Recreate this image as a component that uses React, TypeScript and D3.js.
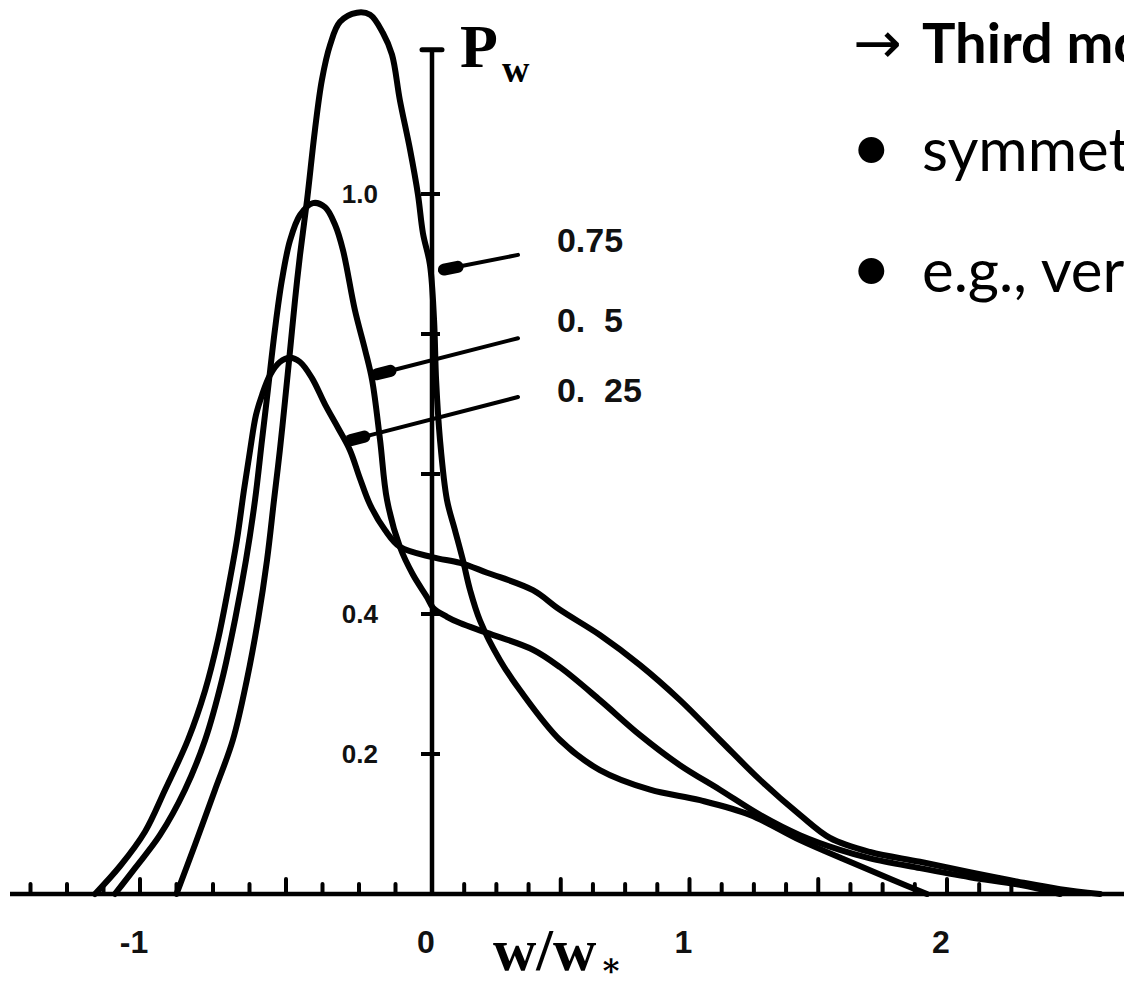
import React from "react";
import * as d3 from "d3";

const W = 1124;
const H = 983;

// P_w curves, points as [w/w*, P_w]
const curve075: [number, number][] = [
  [-0.875, 0], [-0.812, 0.07], [-0.743, 0.149], [-0.682, 0.22], [-0.634, 0.306],
  [-0.596, 0.391], [-0.565, 0.477], [-0.541, 0.563], [-0.521, 0.634], [-0.503, 0.706],
  [-0.486, 0.777], [-0.469, 0.849], [-0.452, 0.913], [-0.428, 0.991], [-0.401, 1.091],
  [-0.377, 1.163], [-0.349, 1.213], [-0.315, 1.246], [-0.257, 1.259], [-0.212, 1.256],
  [-0.168, 1.23], [-0.137, 1.199], [-0.11, 1.134], [-0.075, 1.063], [-0.048, 0.999],
  [-0.031, 0.944], [-0.007, 0.899], [0.008, 0.82], [0.016, 0.734], [0.031, 0.649],
  [0.058, 0.563], [0.089, 0.52], [0.12, 0.477], [0.148, 0.434], [0.186, 0.391],
  [0.264, 0.334], [0.342, 0.291], [0.497, 0.22], [0.652, 0.177], [0.847, 0.149],
  [1.041, 0.134], [1.235, 0.113], [1.429, 0.077], [1.623, 0.046], [1.79, 0.02], [1.922, 0],
];

const curve05: [number, number][] = [
  [-1.086, 0], [-1.017, 0.037], [-0.932, 0.084], [-0.846, 0.149], [-0.777, 0.22],
  [-0.719, 0.306], [-0.675, 0.391], [-0.637, 0.477], [-0.606, 0.563], [-0.582, 0.649],
  [-0.562, 0.72], [-0.538, 0.806], [-0.514, 0.877], [-0.486, 0.934], [-0.452, 0.97],
  [-0.408, 0.987], [-0.366, 0.981], [-0.332, 0.956], [-0.305, 0.92], [-0.264, 0.834],
  [-0.229, 0.777], [-0.205, 0.734], [-0.178, 0.649], [-0.154, 0.563], [-0.11, 0.496],
  [-0.065, 0.456], [-0.017, 0.424], [0.004, 0.409], [0.058, 0.396], [0.109, 0.387],
  [0.214, 0.373], [0.392, 0.349], [0.497, 0.324], [0.652, 0.277], [0.808, 0.227],
  [0.963, 0.184], [1.118, 0.149], [1.274, 0.113], [1.429, 0.084], [1.584, 0.063],
  [1.701, 0.051], [1.895, 0.037], [2.089, 0.024], [2.283, 0.013], [2.439, 0],
];

const curve025: [number, number][] = [
  [-1.154, 0], [-1.068, 0.04], [-0.983, 0.089], [-0.914, 0.149], [-0.836, 0.22],
  [-0.777, 0.291], [-0.733, 0.363], [-0.699, 0.434], [-0.668, 0.506], [-0.644, 0.577],
  [-0.623, 0.634], [-0.603, 0.684], [-0.582, 0.713], [-0.555, 0.741], [-0.521, 0.76],
  [-0.486, 0.766], [-0.452, 0.76], [-0.411, 0.737], [-0.366, 0.699], [-0.322, 0.666],
  [-0.281, 0.634], [-0.247, 0.594], [-0.212, 0.556], [-0.161, 0.52], [-0.11, 0.496],
  [0.004, 0.481], [0.109, 0.473], [0.214, 0.459], [0.392, 0.434], [0.497, 0.406],
  [0.652, 0.37], [0.808, 0.327], [0.963, 0.277], [1.118, 0.22], [1.274, 0.163],
  [1.429, 0.113], [1.546, 0.08], [1.701, 0.06], [1.895, 0.046], [2.089, 0.031],
  [2.283, 0.017], [2.439, 0.007], [2.594, 0],
];

const curveLabels = ["0.75", "0.  5", "0.  25"];
// leader lines: [start (near label), end (on curve)] in data units
const leaderStarts: [number, number][] = [[0.334, 0.913], [0.334, 0.794], [0.334, 0.71]];
const leaderEnds: [number, number][] = [[0.031, 0.891], [-0.202, 0.741], [-0.291, 0.647]];
const labelAnchors: [number, number][] = [[0.485, 0.934], [0.485, 0.82], [0.485, 0.72]];

const yTickValues = [0.2, 0.4, 0.6, 0.8, 1.0];
const yTickLabels = ["0.2", "0.4", "", "", "1.0"];
const xLabelValues = [-1, 0, 1, 2];
const xLabelTexts = ["-1", "0", "1", "2"];
const xTickIndex = d3.range(-11, 19); // ticks every 1/8
const yAxisTop = 1.206;

const headerText = "Third moment";
const bulletTexts = ["symmetric", "e.g., vertical"];

export default function App() {
  const x = d3.scaleLinear().domain([-1, 0, 2]).range([140, 432, 947]);
  const y = d3.scaleLinear().domain([0, 1]).range([894, 194]);
  const line = d3
    .line<[number, number]>()
    .x((d) => x(d[0]))
    .y((d) => y(d[1]))
    .curve(d3.curveCatmullRom.alpha(0.5));

  const x0 = x(0);
  const y0 = y(0);
  const curves = [curve075, curve05, curve025];

  return (
    <svg
      width={W}
      height={H}
      viewBox={`0 0 ${W} ${H}`}
      style={{ position: "absolute", left: 0, top: 0, background: "#fff" }}
    >
      <rect x={0} y={0} width={W} height={H} fill="#fff" />
      {/* x axis */}
      <line x1={10} x2={W} y1={y0} y2={y0} stroke="#000" strokeWidth={4.5} />
      {xTickIndex.map((i) => {
        const v = i * 0.125;
        const major = i % 4 === 0;
        return (
          <line
            key={i}
            x1={x(v)}
            x2={x(v)}
            y1={y0}
            y2={y0 - (major ? 15 : 10)}
            stroke="#000"
            strokeWidth={4}
            strokeLinecap="round"
          />
        );
      })}
      {/* y axis */}
      <line x1={x0} x2={x0} y1={y0} y2={y(yAxisTop)} stroke="#000" strokeWidth={4.5} />
      <line x1={x0 - 10} x2={x0 + 10} y1={y(yAxisTop)} y2={y(yAxisTop)} stroke="#000" strokeWidth={5} strokeLinecap="round" />
      {yTickValues.map((v, i) => (
        <g key={v}>
          <line x1={x0 - 11} x2={x0 + 8} y1={y(v)} y2={y(v)} stroke="#000" strokeWidth={4} />
          {yTickLabels[i] && (
            <text
              x={378}
              y={y(v) + 9}
              textAnchor="end"
              fontFamily="'Liberation Sans', Arial, sans-serif"
              fontWeight="bold"
              fontSize={26}
              fill="#111"
            >
              {yTickLabels[i]}
            </text>
          )}
        </g>
      ))}
      {xLabelValues.map((v, i) => (
        <text
          key={v}
          x={x(v) - 6}
          y={953}
          textAnchor="middle"
          fontFamily="'Liberation Sans', Arial, sans-serif"
          fontWeight="bold"
          fontSize={32}
          fill="#111"
        >
          {xLabelTexts[i]}
        </text>
      ))}
      {/* axis titles */}
      <text x={460} y={67} fontFamily="'Liberation Serif', 'Times New Roman', serif" fontWeight="bold" fontSize={62} fill="#000">
        P
      </text>
      <text x={502} y={82} fontFamily="'Liberation Serif', 'Times New Roman', serif" fontWeight="bold" fontSize={38} fill="#000">
        w
      </text>
      <text x={493} y={970} fontFamily="'Liberation Serif', 'Times New Roman', serif" fontWeight="bold" fontSize={60} fill="#000">
        w/w
      </text>
      <text x={600} y={976} fontFamily="'DejaVu Serif', serif" fontWeight="bold" fontSize={32} fill="#000">
        ∗
      </text>
      {/* curves */}
      {curves.map((c, i) => (
        <path key={i} d={line(c) || ""} fill="none" stroke="#000" strokeWidth={6} strokeLinejoin="round" strokeLinecap="round" />
      ))}
      {/* leaders and labels */}
      {curveLabels.map((lab, i) => {
        const sx = x(leaderStarts[i][0]);
        const sy = y(leaderStarts[i][1]);
        const ex = x(leaderEnds[i][0]);
        const ey = y(leaderEnds[i][1]);
        const len = Math.hypot(sx - ex, sy - ey);
        const ux = (sx - ex) / len;
        const uy = (sy - ey) / len;
        return (
          <g key={lab}>
            <line x1={sx} y1={sy} x2={ex} y2={ey} stroke="#000" strokeWidth={4} strokeLinecap="round" />
            <line x1={ex + ux * 4} y1={ey + uy * 4} x2={ex + ux * 18} y2={ey + uy * 18} stroke="#000" strokeWidth={12} strokeLinecap="round" />
            <text
              x={x(labelAnchors[i][0])}
              y={y(labelAnchors[i][1])}
              dominantBaseline="central"
              fontFamily="'Liberation Sans', Arial, sans-serif"
              fontWeight="bold"
              fontSize={34}
              fill="#111"
              style={{ whiteSpace: "pre" }}
            >
              {lab}
            </text>
          </g>
        );
      })}
      {/* right-hand slide text */}
      <text x={853} y={63} fontFamily="'DejaVu Sans', sans-serif" fontSize={58} fill="#000">
        →
      </text>
      <text x={922} y={63} fontFamily="Lato, 'Open Sans', sans-serif" fontWeight="bold" fontSize={56} fill="#000">
        {headerText}
      </text>
      {bulletTexts.map((t, i) => (
        <g key={t}>
          <text x={851} y={[171, 292][i]} fontFamily="Lato, 'Open Sans', sans-serif" fontSize={70} fill="#000">
            •
          </text>
          <text x={922} y={[171, 292][i]} fontFamily="Lato, 'Open Sans', sans-serif" fontSize={60} fill="#000">
            {t}
          </text>
        </g>
      ))}
    </svg>
  );
}
